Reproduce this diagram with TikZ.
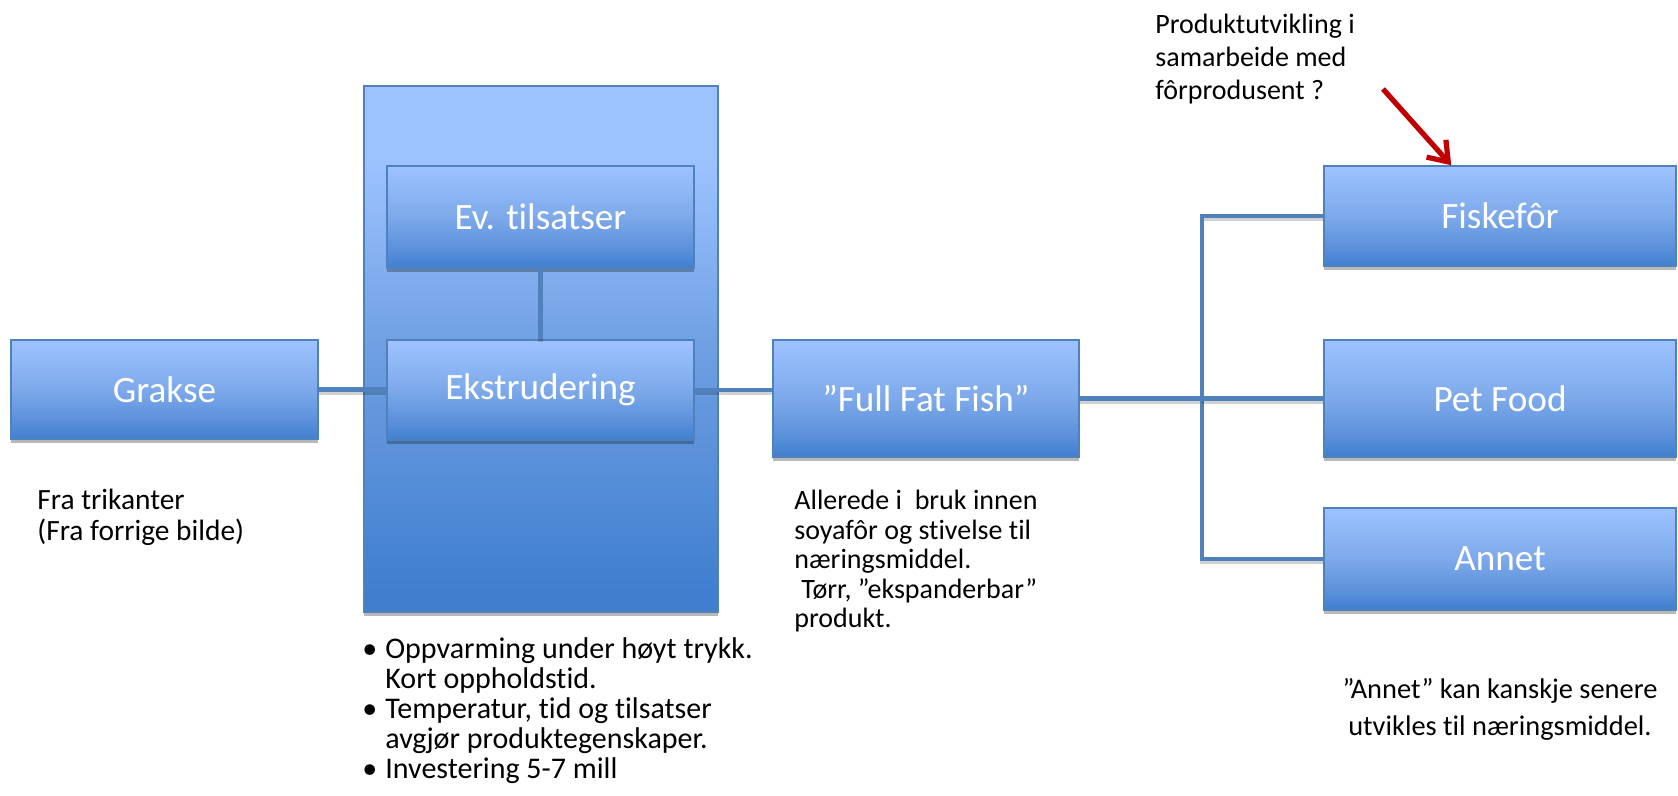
\documentclass[tikz,border=0pt]{standalone}
\usepackage{fontspec}
\setmainfont{Carlito}[Ligatures=NoCommon]
\usetikzlibrary{shadows,arrows.meta}
\definecolor{boxtop}{HTML}{9DC3FF}
\definecolor{boxmid}{HTML}{7DA9EA}
\definecolor{boxlow}{HTML}{5A90DA}
\definecolor{boxbot}{HTML}{3F7FCE}
\definecolor{bigmid}{HTML}{6F9FE2}
\definecolor{boxline}{HTML}{4F81BD}
\definecolor{conn}{HTML}{4F81BD}
\definecolor{arrowred}{HTML}{C00000}
\definecolor{notetext}{HTML}{000000}
\pgfdeclareverticalshading{smallboxshade}{100bp}{color(0bp)=(boxbot); color(25bp)=(boxbot); color(34bp)=(boxlow); color(50bp)=(boxmid); color(75bp)=(boxtop); color(100bp)=(boxtop)}
\pgfdeclareverticalshading{bigboxshade}{100bp}{color(0bp)=(boxbot); color(27bp)=(boxbot); color(50bp)=(bigmid); color(68bp)=(boxtop); color(100bp)=(boxtop)}
\tikzset{
  blk/.style={draw=boxline, line width=0.8pt, shading=smallboxshade, text=white,
    font=\fontsize{18.6}{21}\selectfont, inner sep=0pt,
    drop shadow={shadow xshift=0pt, shadow yshift=-2pt, opacity=0.28, fill=black}},
  bigblk/.style={draw=boxline, line width=0.8pt, shading=bigboxshade, inner sep=0pt,
    drop shadow={shadow xshift=0pt, shadow yshift=-2pt, opacity=0.28, fill=black}},
  link/.style={draw=conn, line width=2.4pt,
    preaction={draw=black, opacity=0.18, line width=2.4pt, transform canvas={yshift=-1.5pt}}},
  redarrow/.style={draw=arrowred, line width=2.6pt, -{Straight Barb[length=9pt,width=13pt]}},
  note/.style={inner sep=0pt, text=notetext, font=\fontsize{14}{14.75}\selectfont}
}
\begin{document}
\begin{tikzpicture}[x=0.5pt,y=-0.5pt]
\useasboundingbox (0,0) rectangle (1678,796);
% big container
\node[bigblk, minimum width=177pt, minimum height=263pt] (big) at (541,349) {};
% boxes
\node[blk, minimum width=153.5pt, minimum height=49.5pt] (grakse) at (164.5,389.5) {Grakse};
\node[blk, minimum width=153.5pt, minimum height=51pt] (ev) at (540.5,217) {Ev. tilsatser};
\node[blk, minimum width=153.5pt, minimum height=50pt] (ekstr) at (540.5,390) {Ekstrudering};
\node[blk, minimum width=153pt, minimum height=58.5pt] (fff) at (926,398.5) {”Full Fat Fish”};
\node[blk, minimum width=176pt, minimum height=50pt] (fisk) at (1500,216) {Fiskefôr};
\node[blk, minimum width=176pt, minimum height=58.5pt] (pet) at (1500,398.5) {Pet Food};
\node[blk, minimum width=176pt, minimum height=51pt] (annet) at (1500,559) {Annet};
% connectors
\coordinate (bus) at (1202,398.5);
\draw[link] (grakse.east) -- (grakse.east -| ekstr.west);
\draw[link] (ekstr.east) -- (ekstr.east -| fff.west);
\draw[link] (ev.south) -- (ekstr.north);
\draw[link] (fff.east) -- (fff.east -| bus);
\draw[link] (fisk.west) -- (fisk.west -| bus) -- (annet.west -| bus) -- (annet.west);
\draw[link] (pet.west) -- (pet.west -| bus);
% red arrow
\coordinate (arrstart) at (1383,89);
\path (fisk.north west) ++(128,0) coordinate (arrtip);
\draw[redarrow] (arrstart) -- (arrtip);
% notes
\node[note, anchor=base west, font=\fontsize{14.7}{14.75}\selectfont] (n1) at (37,510) {\begin{tabular}[t]{@{}l@{}}Fra trikanter\\(Fra forrige bilde)\end{tabular}};
\node[note, anchor=base west] (n2) at (794,510) {\begin{tabular}[t]{@{}l@{}}Allerede i\ \ bruk innen\\soyafôr og stivelse til\\næringsmiddel.\\\hspace{0.25em}Tørr, ”ekspanderbar”\\produkt.\end{tabular}};
\node[note, anchor=base west, font=\fontsize{15}{15}\selectfont] (n3) at (362,659) {\begin{tabular}[t]{@{}l@{}l@{}}\makebox[11.5pt][l]{•}&Oppvarming under høyt trykk.\\&Kort oppholdstid.\\\makebox[11.5pt][l]{•}&Temperatur, tid og tilsatser\\&avgjør produktegenskaper.\\\makebox[11.5pt][l]{•}&Investering 5-7 mill\end{tabular}};
\node[note, anchor=base west, font=\fontsize{14}{16.5}\selectfont] (n4) at (1155,34) {\begin{tabular}[t]{@{}l@{}}Produktutvikling i\\samarbeide med\\fôrprodusent ?\end{tabular}};
\node[note, anchor=base, font=\fontsize{14.2}{18.5}\selectfont] (n5) at (1500,699) {\begin{tabular}[t]{@{}c@{}}”Annet” kan kanskje senere\\utvikles til næringsmiddel.\end{tabular}};
\end{tikzpicture}
\end{document}
